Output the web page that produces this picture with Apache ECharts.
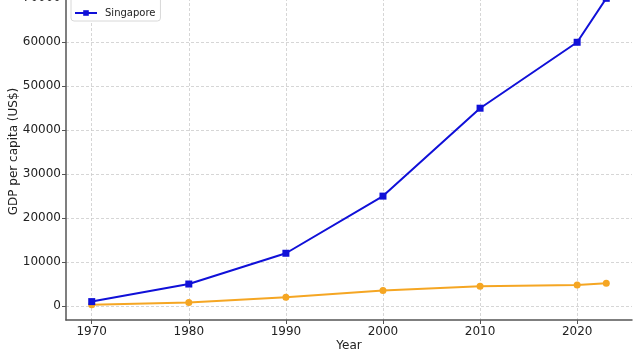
<!DOCTYPE html>
<html>
<head>
<meta charset="utf-8">
<script src="https://cdn.jsdelivr.net/npm/echarts@6/dist/echarts.min.js"></script>
<style>
  html, body { margin: 0; padding: 0; background: #fff; }
  #chart { width: 640px; height: 360px; }
</style>
</head>
<body>
<div id="chart"></div>
<script>
// data
var years = [1970, 1980, 1990, 2000, 2010, 2020, 2023];
var indonesia = [300, 800, 2000, 3500, 4500, 4800, 5200];
var singapore = [1000, 5000, 12000, 25000, 45000, 60000, 70000];
var xTicks = [1970, 1980, 1990, 2000, 2010, 2020];
var yTicks = [0, 10000, 20000, 30000, 40000, 50000, 60000, 70000];

var font = 'DejaVu Sans';
var chart = echarts.init(document.getElementById('chart'));

function pairs(xs, ys) {
    return xs.map(function (x, i) { return [x, ys[i]]; });
}

var option = {
    animation: false,
    textStyle: { fontFamily: font },
    grid: { left: 66, right: 8, top: -17, bottom: 40, containLabel: false, outerBoundsMode: 'none' },
    legend: {
        orient: 'vertical',
        left: 71,
        top: -14,
        padding: [4, 5, 3, 3],
        itemGap: 8,
        itemWidth: 22,
        itemHeight: 7,
        borderColor: '#d8d8d8',
        borderWidth: 1,
        borderRadius: 3,
        backgroundColor: '#fff',
        textStyle: { fontFamily: font, fontSize: 10, color: '#222', padding: [0, 0, 0, 3] },
        data: ['Indonesia', 'Singapore']
    },
    xAxis: {
        type: 'value',
        min: 1967.35,
        max: 2025.65,
        name: 'Year',
        nameLocation: 'middle',
        nameGap: 20,
        nameMoveOverlap: false,
        nameTextStyle: { fontFamily: font, fontSize: 12, color: '#222' },
        axisLine: { onZero: false, lineStyle: { color: '#555', width: 1.5 } },
        axisTick: { show: true, length: 4, customValues: xTicks, lineStyle: { color: '#555' } },
        axisLabel: {
            customValues: xTicks, fontFamily: font, fontSize: 12, color: '#222', margin: 6,
            formatter: function (v) { return String(v); }
        },
        splitLine: { show: true, lineStyle: { color: '#cccccc', type: [3, 2], width: 0.8 } }
    },
    yAxis: {
        type: 'value',
        min: -3185,
        max: 73485,
        name: 'GDP per capita (US$)',
        nameLocation: 'middle',
        nameGap: 46,
        nameMoveOverlap: false,
        nameTextStyle: { fontFamily: font, fontSize: 12, color: '#222' },
        axisLine: { show: true, onZero: false, lineStyle: { color: '#555', width: 1.5 } },
        axisTick: { show: true, length: 4, customValues: yTicks, lineStyle: { color: '#555' } },
        axisLabel: {
            customValues: yTicks, fontFamily: font, fontSize: 12, color: '#222', margin: 5,
            formatter: function (v) { return String(v); }
        },
        splitLine: { show: true, lineStyle: { color: '#cccccc', type: [3, 2], width: 0.8 } }
    },
    series: [
        {
            name: 'Indonesia',
            type: 'line',
            data: pairs(years, indonesia),
            symbol: 'circle',
            symbolSize: 7,
            color: '#f5a623',
            lineStyle: { width: 2 }
        },
        {
            name: 'Singapore',
            type: 'line',
            data: pairs(years, singapore),
            symbol: 'rect',
            symbolSize: 7,
            color: '#1010d8',
            lineStyle: { width: 2 }
        }
    ]
};
chart.setOption(option);
</script>
</body>
</html>
